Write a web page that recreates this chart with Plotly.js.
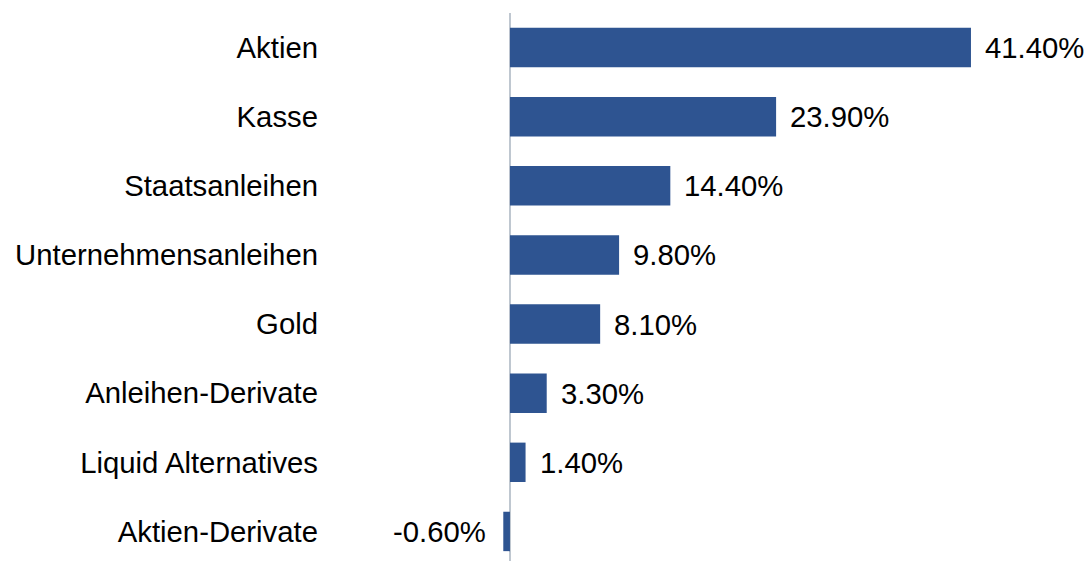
<!DOCTYPE html>
<html>
<head>
<meta charset="utf-8">
<script src="https://cdn.plot.ly/plotly-3.0.1.min.js"></script>
<style>
html,body{margin:0;padding:0;background:#fff;overflow:hidden;}
#chart{width:1089px;height:566px;}
</style>
</head>
<body>
<div id="chart"></div>
<script>
var categories = ["Aktien","Kasse","Staatsanleihen","Unternehmensanleihen","Gold","Anleihen-Derivate","Liquid Alternatives","Aktien-Derivate"];
var values = [41.4, 23.9, 14.4, 9.8, 8.1, 3.3, 1.4, -0.6];
var valueLabels = ["41.40%","23.90%","14.40%","9.80%","8.10%","3.30%","1.40%","-0.60%"];

var FONT = "Liberation Sans, Arial, sans-serif";

var trace = {
  type: "bar",
  orientation: "h",
  y: categories,
  x: values,
  marker: {color: "#2E5491", line: {width: 0}},
  hoverinfo: "none"
};

var annotations = values.map(function(v, i){
  return {
    x: v, y: categories[i], xref: "x", yref: "y",
    text: valueLabels[i], showarrow: false,
    xanchor: v >= 0 ? "left" : "right",
    xshift: v >= 0 ? 12 : -15,
    font: {family: FONT, size: 29.3, color: "#000"}
  };
});

var layout = {
  width: 1089, height: 566,
  margin: {l: 319, r: 0, t: 13, b: 0, pad: 0},
  paper_bgcolor: "#fff", plot_bgcolor: "#fff",
  showlegend: false,
  bargap: 0.43,
  xaxis: {
    range: [-17.15, 52.0],
    showgrid: false, showticklabels: false, ticks: "",
    zeroline: true, zerolinecolor: "#BFC7D0", zerolinewidth: 1.5,
    showline: false, fixedrange: true
  },
  yaxis: {
    autorange: "reversed",
    type: "category",
    showgrid: false, zeroline: false, showline: false,
    ticks: "", ticklen: 0,
    tickfont: {family: FONT, size: 29.3, color: "#000"},
    automargin: false, fixedrange: true
  },
  annotations: annotations
};

Plotly.newPlot("chart", [trace], layout, {displayModeBar: false, staticPlot: true});
</script>
</body>
</html>
